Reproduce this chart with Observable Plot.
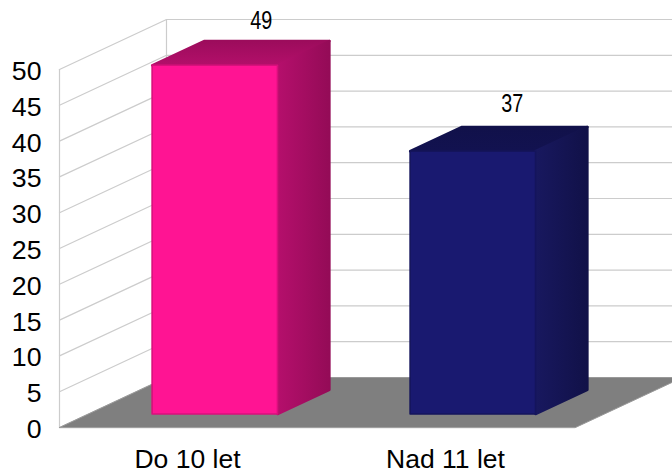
<!DOCTYPE html>
<html>
<head>
<meta charset="utf-8">
<script src="https://cdn.jsdelivr.net/npm/d3@7"></script>
<script src="https://cdn.jsdelivr.net/npm/@observablehq/plot@0.6"></script>
<style>
html,body{margin:0;padding:0;background:#fff}
svg{display:block}
</style>
</head>
<body>
<div id="chart"></div>
<script>
const categories = ["Do 10 let", "Nad 11 let"];
const values = [49, 37];
const yTicks = [0, 5, 10, 15, 20, 25, 30, 35, 40, 45, 50];
const frontColors = ["#ff1493", "#191970"];
const sideLight = ["#b50f6c", "#18185f"];
const sideDark = ["#940b57", "#111148"];
const topLight = ["#b30f6a", "#121250"];
const topDark = ["#9c0c5c", "#11114a"];
const edgeColors = ["#d8107c", "#14145c"];

// oblique projection: depth z (0 front .. 1 back) shifts a data point along both axes
const depthX = 0.4147, depthY = 6.98;
const project = (c, v, z) => [c + z * depthX, v + z * depthY];
const poly = (pts) => pts.map(([c, v, z]) => project(c, v, z));

const face = (pts, fill, stroke, strokeWidth = 1.5) =>
  Plot.line(poly(pts), {
    x: (d) => d[0], y: (d) => d[1], fill, stroke, strokeWidth,
    strokeLinejoin: "round", curve: "linear-closed"
  });

const barHalf = 0.243, barShift = -0.01, zFront = 0.27, zBack = 0.755, topInset = 0.3;
const xEnd = categories.length;

function barMarks(i) {
  const c = i + 0.5 + barShift, l = c - barHalf, r = c + barHalf, t = values[i] - topInset;
  return [
    face([[l, t, zFront], [l, t, zBack], [r, t, zBack], [r, t, zFront]], `url(#top${i})`, `url(#top${i})`, 2.5),
    face([[r, 0, zFront], [r, t, zFront], [r, t, zBack], [r, 0, zBack]], `url(#side${i})`, `url(#side${i})`, 2.5),
    face([[l, 0, zFront], [l, t, zFront], [r, t, zFront], [r, 0, zFront]], frontColors[i], edgeColors[i], 1.6)
  ];
}

function valueLabel(i, dx, dy) {
  return Plot.text([i], {
    x: (k) => project(k + 0.5, values[k], zBack)[0],
    y: (k) => project(k + 0.5, values[k], zBack)[1],
    text: (k) => String(values[k]),
    dx, dy,
    className: "value-label",
    fontSize: 26,
    fill: "#000"
  });
}

const defs = () => {
  const d = d3.create("svg:defs");
  categories.forEach((_, i) => {
    const s = d.append("linearGradient").attr("id", `side${i}`).attr("x1", 0).attr("x2", 1).attr("y1", 0).attr("y2", 0);
    s.append("stop").attr("offset", 0).attr("stop-color", sideLight[i]);
    s.append("stop").attr("offset", 1).attr("stop-color", sideDark[i]);
    const t = d.append("linearGradient").attr("id", `top${i}`).attr("x1", 0).attr("x2", 0).attr("y1", 1).attr("y2", 0);
    t.append("stop").attr("offset", 0).attr("stop-color", topLight[i]);
    t.append("stop").attr("offset", 1).attr("stop-color", topDark[i]);
  });
  return d.node();
};

const gridColor = "#cccccc", gridWidth = 1.2;
const wallRows = yTicks.map((v) => poly([[0, v, 0], [0, v, 1], [xEnd, v, 1]]));

const chart = Plot.plot({
  width: 672,
  height: 473,
  marginLeft: 59,
  marginRight: 97,
  marginTop: 69,
  marginBottom: 46,
  style: { fontFamily: "'Liberation Sans', Arial, sans-serif", background: "#fff", color: "#000" },
  x: { domain: [0, xEnd] },
  y: { domain: [0, 50] },
  marks: [
    defs,
    ...wallRows.map((row) => Plot.line(row, { x: (d) => d[0], y: (d) => d[1], stroke: gridColor, strokeWidth: gridWidth })),
    Plot.line(poly([[0, 0, 0], [0, 50, 0]]), { x: (d) => d[0], y: (d) => d[1], stroke: gridColor, strokeWidth: gridWidth }),
    Plot.line(poly([[0, 0, 1], [0, 50, 1]]), { x: (d) => d[0], y: (d) => d[1], stroke: gridColor, strokeWidth: gridWidth }),
    face([[0, 0, 0], [0, 0, 1], [xEnd, 0, 1], [xEnd, 0, 0]], "#7f7f7f", "#999999", 1),
    ...categories.flatMap((_, i) => barMarks(i)),
    Plot.axisY({ ticks: yTicks, tickSize: 0, tickPadding: 18, fontSize: 26.7, dy: 2, label: null }),
    Plot.axisX({
      ticks: categories.map((_, i) => i + 0.5),
      tickFormat: (d) => categories[Math.floor(d)],
      tickSize: 0, tickPadding: 22, fontSize: 26.5, dx: -1, label: null
    }),
    valueLabel(0, -8, -18),
    valueLabel(1, -15, -21)
  ]
});
// the data labels are horizontally condensed in the original
d3.select(chart).selectAll(".value-label text")
  .attr("textLength", 22)
  .attr("lengthAdjust", "spacingAndGlyphs");
document.getElementById("chart").append(chart);
</script>
</body>
</html>
